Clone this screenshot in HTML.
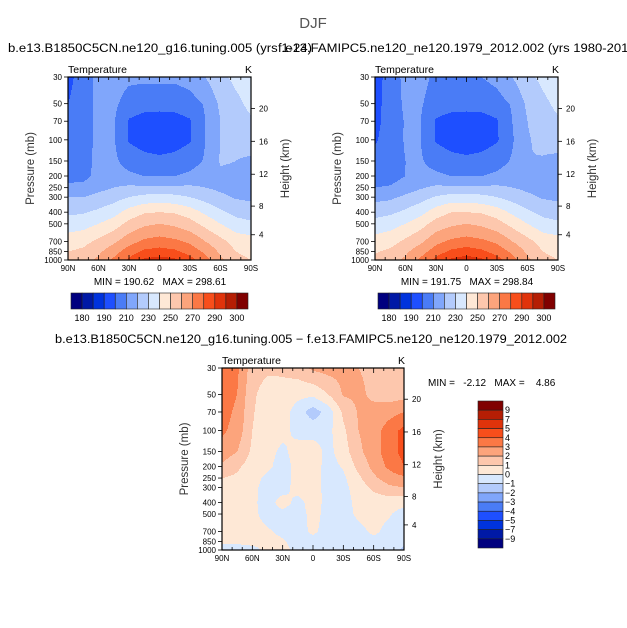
<!DOCTYPE html>
<html><head><meta charset="utf-8"><style>
html,body{margin:0;padding:0;background:#fff;}
svg{display:block;font-family:"Liberation Sans",sans-serif;}
</style></head><body>
<svg id="fig" width="627" height="628" viewBox="0 0 627 628" xmlns="http://www.w3.org/2000/svg">
<rect width="627" height="628" fill="#fff"/>
<text x="313" y="28" font-size="15" fill="#555" text-anchor="middle">DJF</text>
<text x="8" y="52" font-size="11.5" textLength="304" lengthAdjust="spacingAndGlyphs">b.e13.B1850C5CN.ne120_g16.tuning.005 (yrs 1-24)</text>
<text x="278" y="52" font-size="11.5" textLength="362" lengthAdjust="spacingAndGlyphs">f.e13.FAMIPC5.ne120_ne120.1979_2012.002 (yrs 1980-2012)</text>
<text x="55" y="343" font-size="11.5" textLength="512" lengthAdjust="spacingAndGlyphs">b.e13.B1850C5CN.ne120_g16.tuning.005 − f.e13.FAMIPC5.ne120_ne120.1979_2012.002</text>
<g id="plots"></g>
</svg>
<script>
const latLabels=["90N","60N","30N","0","30S","60S","90S"];
const presTicks=[30,50,70,100,150,200,250,300,400,500,700,850,1000];
const heightTicks=[4,8,12,16,20];
const plevs=[30,50,70,100,150,200,250,300,400,500,700,850,1000];
const tempLevels=[180,185,190,200,210,220,230,240,250,260,270,280,290,295,300];
const tempLabels=["180","190","210","230","250","270","290","300"];
const diffLevels=[-9,-7,-5,-4,-3,-2,-1,0,1,2,3,4,5,7,9];
const diffLabels=["9","7","5","4","3","2","1","0","−1","−2","−3","−4","−5","−7","−9"];
const colors=["#00007f","#0019a6","#0033dd","#1e4fff","#4a7cf6","#80a6fb","#b3cbfc","#d8e8fe","#fee8d6","#fdc7ad","#fca47c","#fb7845","#f84e1b","#e0330b","#b51e04","#800000"];
const T1=[
[197,205,213,214,212,212,212,212,214,220,228,232,234],
[200,205,213,212,206,204,204,204,206,211,222,228,232],
[202,205,213,211,199,196,195,196,199,210,220,226,229],
[203,205,213,211,199,196,195,196,199,210,220,224,226],
[205,206,213,212,206,203,202,203,206,211,221,220,218],
[207,207,213,214,212,210,210,210,212,215,218,218,217],
[212,213,217,220,222,222,222,222,222,220,218,217,216],
[220,220,223,226,230,233,234,233,230,226,222,219,218],
[228,229,232,236,244,249,250,249,245,238,232,227,225],
[235,236,240,245,253,258,260,258,254,247,240,234,232],
[245,247,252,258,266,272,274,272,268,260,253,246,244],
[250,252,258,266,275,282,284,282,276,268,258,250,246],
[252,256,262,272,282,292,294,292,284,274,262,254,250]];
const T2=[
[196,204,213,213,208,209,209,210,213,220,228,232,236],
[197,204,212,211,205,204,204,204,206,211,222,228,232],
[198,203,211,210,199,196,195,196,199,210,220,226,229],
[199,204,211,210,199,196,195,196,199,209,219,223,225],
[203,205,210,211,206,203,202,203,206,211,220,219,217],
[206,206,210,213,212,210,210,210,212,215,217,217,216],
[210,211,215,219,222,222,222,222,222,220,218,217,216],
[217,218,222,226,231,234,234,233,230,226,222,219,218],
[226,228,232,237,245,250,250,249,245,238,232,227,225],
[234,236,240,246,254,258,260,258,254,247,240,234,232],
[244,246,252,258,267,272,274,272,268,260,253,246,244],
[249,252,258,266,275,282,285,282,276,268,258,250,246],
[252,256,262,272,283,292,295,292,284,274,262,254,250]];
const D=[
[3.5,3.2,1.5,1.2,1.2,1.5,2.2,2.4,2.3,2.0,1.8,1.5,1.8],
[3.5,3.0,1.2,0.5,0.6,0.3,0.2,1.0,2.1,2.2,1.8,1.5,1.6],
[3.4,2.8,1.1,0.4,0.5,-0.5,-1.5,-0.6,1.2,2.1,2.3,2.6,3.0],
[3.2,2.6,1.0,0.4,0.3,-0.3,-0.4,-0.3,0.8,2.0,2.5,3.5,4.3],
[2.6,2.0,0.8,0.3,-0.2,0.4,0.5,-0.3,0.5,1.8,2.5,3.6,4.3],
[1.8,1.2,0.5,0.2,-0.4,0.3,0.5,-0.4,0.1,1.3,2.3,3.2,4.0],
[1.0,0.8,0.3,-0.2,-0.4,0.3,0.5,-0.5,-0.2,0.8,1.8,2.5,2.8],
[0.5,0.4,0.2,-0.3,-0.4,0.4,0.5,-0.4,-0.3,0.5,1.2,1.8,2.0],
[0.4,0.3,0.2,-0.4,0.4,-0.3,0.4,-0.3,-0.4,0.3,0.5,0.4,0.3],
[0.4,0.3,0.2,-0.3,-0.3,-0.4,0.3,-0.3,-0.4,0.2,0.4,0.1,-0.4],
[0.5,0.4,0.3,0.1,-0.2,-0.4,0.2,-0.4,-0.5,-0.3,0.2,-0.3,-0.6],
[0.2,0.3,0.4,0.3,0.1,-0.3,-0.4,-0.5,-0.5,-0.4,-0.3,-0.4,-0.8],
[-0.5,-0.7,-0.4,0.3,0.2,-0.2,-0.3,-0.5,-0.5,-0.4,-0.4,-0.5,-1.2]];
const minmax1=["190.62","298.61"], minmax2=["191.75","298.84"], minmax3=["-2.12","4.86"];

const NS="http://www.w3.org/2000/svg";
const root=document.getElementById('plots');
function mk(tag,attrs,parent){const e=document.createElementNS(NS,tag);for(const k in attrs)e.setAttribute(k,attrs[k]);(parent||root).appendChild(e);return e;}
const LR=Math.log(1000/30);
function yOfP(p,y0,h){return y0+Math.log(p/30)/LR*h;}
function xOfLat(lat,x0,w){return x0+(90-lat)/180*w;}
function pOfKm(z){const m=z*1000;return m<11000?1013.25*Math.pow(1-2.2558e-5*m,5.256):226.3*Math.exp(-(m-11000)/6341.6);}
function sample(grid,xf,p){
  const ci=xf*12;let i=Math.min(11,Math.floor(ci));const fx=ci-i;
  const lp=Math.log(p);let j=0;while(j<11&&p>plevs[j+1])j++;
  const fy=(lp-Math.log(plevs[j]))/(Math.log(plevs[j+1])-Math.log(plevs[j]));
  const a=grid[j][i]*(1-fx)+grid[j][i+1]*fx,b=grid[j+1][i]*(1-fx)+grid[j+1][i+1]*fx;
  return a*(1-fy)+b*fy;
}
function levelIndex(v,levels){let k=0;while(k<levels.length&&v>=levels[k])k++;return k;}

function drawPlot(grid,levels,x0,y0,w,h,name,mm,mmPos){
  const g=mk('g',{});
  
  
  for(let py=0;py<h;py++){
    const p=30*Math.exp((py+0.5)/h*LR);
    let start=0,cur=-1;
    for(let px=0;px<=w;px++){
      const k=px<w?levelIndex(sample(grid,(px+0.5)/w,p),levels):-2;
      if(k!==cur){
        if(cur>=0){const r=mk('rect',{x:x0+start,y:y0+py,width:px-start+0.4,height:1.4,fill:colors[cur]},g);
          
          }
        cur=k;start=px;}
    }
  }
  const fr=mk('rect',{x:x0,y:y0,width:w,height:h,fill:'none',stroke:'#000','stroke-width':1.2},g);
  
  
  presTicks.forEach(p=>{const y=yOfP(p,y0,h);
    mk('line',{x1:x0-4,x2:x0,y1:y,y2:y,stroke:'#000','stroke-width':0.8},g);
    const t=mk('text',{x:x0-6,y:y+3,'font-size':8,'text-anchor':'end'},g);t.textContent=p;
    
    });
  heightTicks.forEach(z=>{const y=yOfP(pOfKm(z),y0,h);
    mk('line',{x1:x0+w,x2:x0+w+4,y1:y,y2:y,stroke:'#000','stroke-width':0.8},g);
    const t=mk('text',{x:x0+w+8,y:y+3,'font-size':8},g);t.textContent=z;
    
    });
  for(let lat=90;lat>=-90;lat-=10){const x=xOfLat(lat,x0,w);const maj=lat%30===0;
    mk('line',{x1:x,x2:x,y1:y0+h,y2:y0+h-(maj?5:3),stroke:'#000','stroke-width':0.8},g);
    mk('line',{x1:x,x2:x,y1:y0,y2:y0+(maj?5:3),stroke:'#000','stroke-width':0.8},g);}
  latLabels.forEach((l,i)=>{const t=mk('text',{x:x0+i*w/6,y:y0+h+11,'font-size':8,'text-anchor':'middle'},g);t.textContent=l;
    
    });
  const yt=mk('text',{transform:`translate(${x0-34},${y0+h/2}) rotate(-90)`,'font-size':11.5,'text-anchor':'middle',fill:'#333'},g);yt.textContent='Pressure (mb)';
  
  
  const ht=mk('text',{transform:`translate(${x0+w+38},${y0+h/2}) rotate(-90)`,'font-size':11.5,'text-anchor':'middle',fill:'#333'},g);ht.textContent='Height (km)';
  
  
  const tt=mk('text',{x:x0,y:y0-4,'font-size':10.5},g);tt.textContent='Temperature';
  
  
  const ku=mk('text',{x:x0+w-6,y:y0-4,'font-size':10.5},g);ku.textContent='K';
  
  
  const m=mk('text',{x:mmPos[0],y:mmPos[1],'font-size':10,'text-anchor':mmPos[2],style:'white-space:pre'},g);
  m.textContent=mmPos[3]?('MIN =   '+mm[0]+'   MAX =    '+mm[1]):('MIN = '+mm[0]+'   MAX = '+mm[1]);
  
  
}
function hbar(x0,y0,w,h,name){
  const g=mk('g',{});
  
  
  const bw=w/16;
  colors.forEach((c,i)=>{const r=mk('rect',{x:x0+i*bw,y:y0,width:bw,height:h,fill:c,stroke:'#222','stroke-width':0.6},g);
    
    });
  tempLabels.forEach((l,i)=>{const t=mk('text',{x:x0+(2*i+1)*bw,y:y0+h+12,'font-size':9,'text-anchor':'middle'},g);t.textContent=l;
    
    });
}
function vbar(x0,y0,w,h,name){
  const g=mk('g',{});
  
  
  const bh=h/16;
  colors.slice().reverse().forEach((c,i)=>{const r=mk('rect',{x:x0,y:y0+i*bh,width:w,height:bh,fill:c,stroke:'#222','stroke-width':0.6},g);
    
    });
  diffLabels.forEach((l,i)=>{const t=mk('text',{x:x0+w+2,y:y0+(i+1)*bh+3,'font-size':9},g);t.textContent=l;
    
    });
}
drawPlot(T1,tempLevels,68,77,183,183,'test-case-plot',minmax1,[160,285,'middle',false]);
drawPlot(T2,tempLevels,375,77,183,183,'control-case-plot',minmax2,[467,285,'middle',false]);
drawPlot(D,diffLevels,222,368,182,182,'difference-plot',minmax3,[428,386,'start',true]);
hbar(71,293,177,16,'test-colorbar');
hbar(378,293,177,16,'control-colorbar');
vbar(478,401,25,147,'difference-colorbar');
</script>
</body></html>
